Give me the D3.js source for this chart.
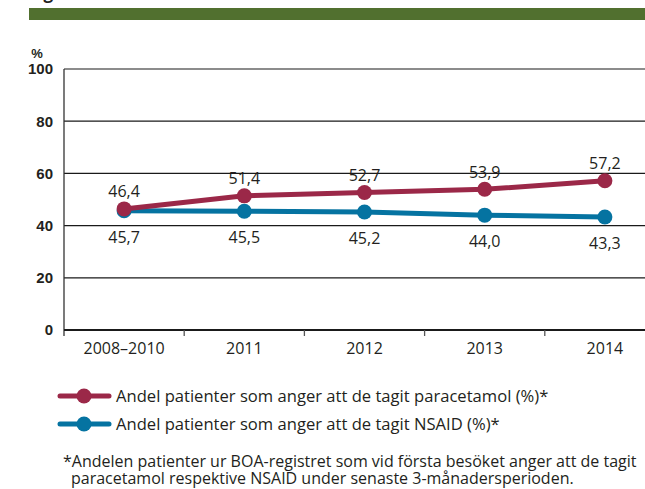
<!DOCTYPE html>
<html><head><meta charset="utf-8">
<script src="https://cdn.jsdelivr.net/npm/d3@7"></script>
<style>html,body{margin:0;padding:0;background:#fff;}svg{display:block;}</style>
</head><body>
<svg id="c" width="645" height="489"></svg>
<script>
const categories = ["2008\u20132010", "2011", "2012", "2013", "2014"];
const paracetamol = [46.4, 51.4, 52.7, 53.9, 57.2];
const nsaid = [45.7, 45.5, 45.2, 44.0, 43.3];
const yTicks = [0, 20, 40, 60, 80, 100];
const seriesNames = ["Andel patienter som anger att de tagit paracetamol (%)*", "Andel patienter som anger att de tagit NSAID (%)*"];
const footnote = ["*Andelen patienter ur BOA-registret som vid första besöket anger att de tagit", "paracetamol respektive NSAID under senaste 3-månadersperioden."];
const colors = ["#9b2848", "#0573a1"];

(function () {
const fmt = v => d3.format(".1f")(v).replace(".", ",");
const svg = d3.select("#c");
const font = "'Open Sans', sans-serif";
const axFont = "'Liberation Sans', Arial, sans-serif";
const textCol = "#231f20";

// header bar and cut-off title
svg.append("text").attr("x", 29).attr("y", -1).attr("font-family", font).attr("font-size", 17).attr("font-weight", 700).attr("fill", textCol).text("Figur");
svg.append("rect").attr("x", 29).attr("y", 8).attr("width", 620).attr("height", 12).attr("fill", "#51702f");

const pLeft = 64, pRight = 665, pTop = 69, pBottom = 330;
const x = d3.scaleBand().domain(categories).range([pLeft, pRight]);
const y = d3.scaleLinear().domain([0, 100]).range([pBottom, pTop]);
const cx = i => x(categories[i]) + x.bandwidth() / 2;

// gridlines
svg.append("g").selectAll("line").data(yTicks.filter(t => t > 0)).join("line")
  .attr("x1", pLeft).attr("x2", 645).attr("y1", d => y(d)).attr("y2", d => y(d))
  .attr("stroke", d => d === 100 ? "#666" : "#1a1a1a").attr("stroke-width", 1.3);

// y axis
const yAxis = svg.append("g").attr("transform", `translate(${pLeft},0)`)
  .call(d3.axisLeft(y).tickValues(yTicks).tickSize(0).tickPadding(11));
yAxis.select(".domain").remove();
yAxis.selectAll("text").attr("font-family", axFont).attr("font-size", 15).attr("font-weight", 700).attr("fill", textCol);
svg.append("line").attr("x1", pLeft).attr("x2", pLeft).attr("y1", pTop).attr("y2", pBottom + 6).attr("stroke", "#333").attr("stroke-width", 1.3);
svg.append("text").attr("x", 37).attr("y", 58).attr("text-anchor", "middle").attr("font-family", axFont).attr("font-size", 13).attr("font-weight", 700).attr("fill", textCol).text("%");

// x axis
svg.append("line").attr("x1", pLeft).attr("x2", 645).attr("y1", pBottom).attr("y2", pBottom).attr("stroke", "#1a1a1a").attr("stroke-width", 2);
const xAxis = svg.append("g").attr("transform", `translate(0,${pBottom})`)
  .call(d3.axisBottom(x).tickSize(0).tickPadding(12));
xAxis.select(".domain").remove();
xAxis.selectAll("text").attr("font-family", font).attr("font-size", 16).attr("fill", textCol)
  .attr("dy", null).attr("y", 24);
svg.append("g").selectAll("line").data(categories.slice(1)).join("line")
  .attr("x1", d => x(d)).attr("x2", d => x(d)).attr("y1", pBottom).attr("y2", pBottom + 6)
  .attr("stroke", "#555").attr("stroke-width", 1.3);

// series
const series = [nsaid, paracetamol];
const cols = [colors[1], colors[0]];
const line = d3.line().x((d, i) => cx(i)).y(d => y(d));
series.forEach((s, k) => {
  svg.append("path").datum(s).attr("d", line).attr("fill", "none").attr("stroke", cols[k]).attr("stroke-width", 5).attr("stroke-linejoin", "round");
  svg.append("g").selectAll("circle").data(s).join("circle")
    .attr("cx", (d, i) => cx(i)).attr("cy", d => y(d)).attr("r", 7.5).attr("fill", cols[k]);
});
// labels
svg.append("g").selectAll("text").data(paracetamol).join("text")
  .attr("x", (d, i) => cx(i)).attr("y", d => y(d) - 11.5)
  .attr("text-anchor", "middle").attr("font-family", font).attr("font-size", 16).attr("fill", textCol).text(fmt);
svg.append("g").selectAll("text").data(nsaid).join("text")
  .attr("x", (d, i) => cx(i)).attr("y", d => y(d) + 32)
  .attr("text-anchor", "middle").attr("font-family", font).attr("font-size", 16).attr("fill", textCol).text(fmt);

// legend
seriesNames.forEach((n, k) => {
  const ly = 396 + k * 28;
  svg.append("line").attr("x1", 60).attr("x2", 109).attr("y1", ly).attr("y2", ly).attr("stroke", colors[k]).attr("stroke-width", 5).attr("stroke-linecap", "round");
  svg.append("circle").attr("cx", 84).attr("cy", ly).attr("r", 7.5).attr("fill", colors[k]);
  svg.append("text").attr("x", 116).attr("y", ly + 6).attr("font-family", font).attr("font-size", 16.6).attr("fill", textCol).text(n);
});
// footnote
footnote.forEach((t, k) => {
  svg.append("text").attr("x", k === 0 ? 63 : 71).attr("y", 467 + k * 16.5).attr("font-family", font).attr("font-size", 16).attr("fill", textCol).text(t);
});
})();
</script>
</body></html>
